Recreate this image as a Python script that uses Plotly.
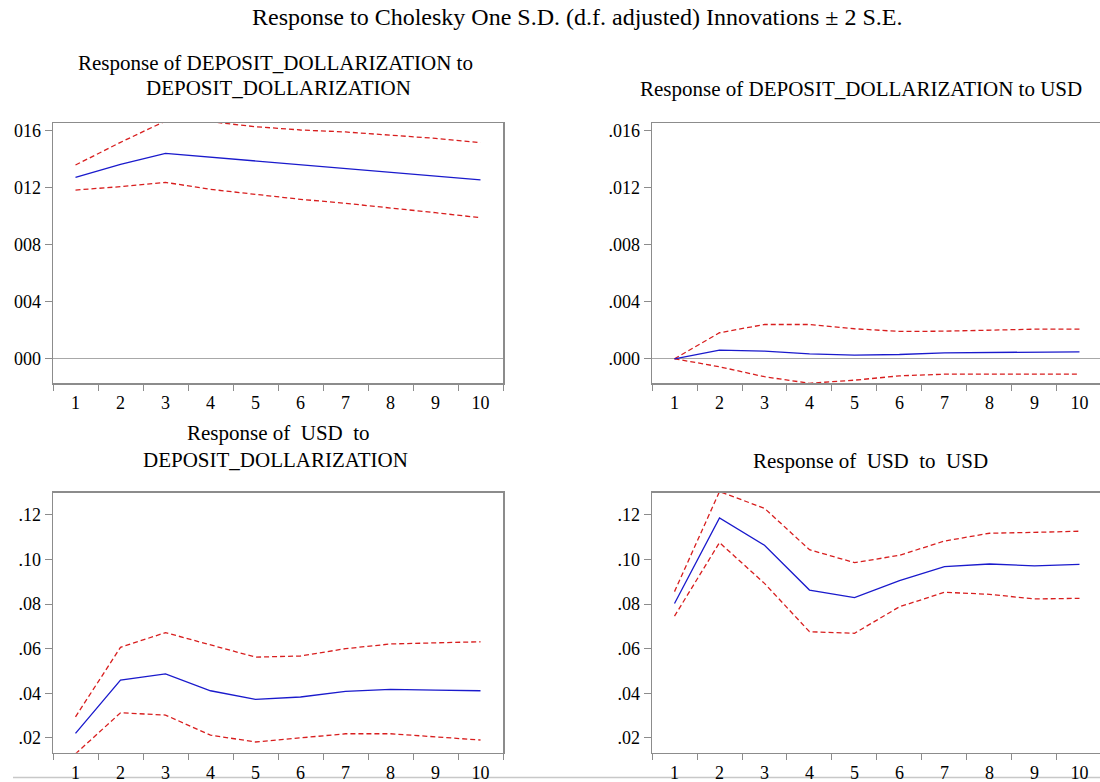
import plotly.graph_objects as go

periods = [1, 2, 3, 4, 5, 6, 7, 8, 9, 10]

# Response of DEPOSIT_DOLLARIZATION to DEPOSIT_DOLLARIZATION
dd_dd = [0.01274, 0.01366, 0.01443, 0.01417, 0.01391, 0.01363, 0.01338, 0.01310, 0.01284, 0.01256]
dd_dd_hi = [0.01361, 0.01520, 0.01670, 0.01665, 0.01630, 0.01607, 0.01593, 0.01572, 0.01548, 0.01518]
dd_dd_lo = [0.01185, 0.01209, 0.01239, 0.01190, 0.01155, 0.01120, 0.01092, 0.01061, 0.01026, 0.00991]

# Response of DEPOSIT_DOLLARIZATION to USD
dd_usd = [0.0, 0.00061, 0.00054, 0.00035, 0.00026, 0.00030, 0.00042, 0.00045, 0.00047, 0.00049]
dd_usd_hi = [0.0, 0.00183, 0.00241, 0.00241, 0.00211, 0.00192, 0.00194, 0.00201, 0.00208, 0.00208]
dd_usd_lo = [0.0, -0.00056, -0.00126, -0.00172, -0.00150, -0.00120, -0.00108, -0.00108, -0.00108, -0.00108]

# Response of USD to DEPOSIT_DOLLARIZATION
usd_dd = [0.0220, 0.0459, 0.0487, 0.0411, 0.0372, 0.0383, 0.0408, 0.0417, 0.0414, 0.0411]
usd_dd_hi = [0.0294, 0.0606, 0.0672, 0.0616, 0.0562, 0.0567, 0.0600, 0.0621, 0.0627, 0.0631]
usd_dd_lo = [0.0128, 0.0312, 0.0302, 0.0212, 0.0181, 0.0201, 0.0218, 0.0218, 0.0204, 0.0190]

# Response of USD to USD
usd_usd = [0.0803, 0.1187, 0.1064, 0.0863, 0.0829, 0.0905, 0.0968, 0.0980, 0.0972, 0.0978]
usd_usd_hi = [0.0856, 0.1305, 0.1230, 0.1044, 0.0986, 0.1019, 0.1083, 0.1118, 0.1122, 0.1127]
usd_usd_lo = [0.0746, 0.1076, 0.0893, 0.0676, 0.0669, 0.0788, 0.0853, 0.0844, 0.0823, 0.0826]

top_ticks = [0.0, 0.004, 0.008, 0.012, 0.016]
top_left_labels = ["000", "004", "008", "012", "016"]
top_right_labels = [".000", ".004", ".008", ".012", ".016"]
bot_ticks = [0.02, 0.04, 0.06, 0.08, 0.10, 0.12]
bot_labels = [".02", ".04", ".06", ".08", ".10", ".12"]

W, H = 1100, 782
BLUE = "#1a1acc"
RED = "#d81e1e"
FRAME = "#8c8c8c"
FONT = "Liberation Serif"
TICKSIZE = 18

panels = [
    (53, 503, 123, 383, [0.5, 10.5], [-0.0017, 0.01656], top_ticks, top_left_labels, (dd_dd, dd_dd_hi, dd_dd_lo)),
    (652, 1100, 123, 383, [0.5, 10.456], [-0.0017, 0.01656], top_ticks, top_right_labels, (dd_usd, dd_usd_hi, dd_usd_lo)),
    (53, 503, 492.7, 752.7, [0.5, 10.5], [0.0133, 0.130], bot_ticks, bot_labels, (usd_dd, usd_dd_hi, usd_dd_lo)),
    (652, 1100, 492.7, 752.7, [0.5, 10.456], [0.0133, 0.130], bot_ticks, bot_labels, (usd_usd, usd_usd_hi, usd_usd_lo)),
]

fig = go.Figure()
layout = {}
for i, (x0, x1, yt, yb, xr, yr, tv, tt, series) in enumerate(panels, start=1):
    xa = "x" if i == 1 else f"x{i}"
    ya = "y" if i == 1 else f"y{i}"
    mid, hi, lo = series
    fig.add_trace(go.Scatter(x=periods, y=hi, mode="lines", xaxis=xa, yaxis=ya,
                             line=dict(color=RED, width=1.3, dash="5px,3px"), showlegend=False))
    fig.add_trace(go.Scatter(x=periods, y=lo, mode="lines", xaxis=xa, yaxis=ya,
                             line=dict(color=RED, width=1.3, dash="5px,3px"), showlegend=False))
    fig.add_trace(go.Scatter(x=periods, y=mid, mode="lines", xaxis=xa, yaxis=ya,
                             line=dict(color=BLUE, width=1.3), showlegend=False))
    xkey = "xaxis" if i == 1 else f"xaxis{i}"
    ykey = "yaxis" if i == 1 else f"yaxis{i}"
    layout[xkey] = dict(
        domain=[x0 / W, x1 / W], anchor=ya, range=xr, automargin=False,
        showline=True, linecolor=FRAME, linewidth=1.5, mirror=True,
        showgrid=False, zeroline=False,
        tickmode="array", tickvals=periods, ticktext=[str(p) for p in periods],
        ticks="outside", ticklen=3, tickcolor="rgba(0,0,0,0)",
        tickfont=dict(family=FONT, size=TICKSIZE, color="black"),
        minor=dict(tickvals=[p - 0.5 for p in periods] + [10.5], ticks="outside",
                   ticklen=6, tickcolor=FRAME, tickwidth=1, showgrid=False),
        fixedrange=True,
    )
    layout[ykey] = dict(
        domain=[1 - yb / H, 1 - yt / H], anchor=xa, range=yr, automargin=False,
        showline=True, linecolor=FRAME, linewidth=1.5, mirror=True,
        showgrid=False, zeroline=True, zerolinecolor="#a8a8a8", zerolinewidth=1.3,
        tickmode="array", tickvals=tv, ticktext=tt,
        ticks="outside", ticklen=7, tickcolor=FRAME, tickwidth=1,
        tickfont=dict(family=FONT, size=TICKSIZE, color="black"),
        fixedrange=True,
    )

NB = "\u00a0"
annotations = [
    dict(text="Response to Cholesky One S.D. (d.f. adjusted) Innovations ± 2 S.E.",
         x=577 / W, y=1 - 17 / H, size=24),
    dict(text="Response of DEPOSIT_DOLLARIZATION to", x=275 / W, y=1 - 63 / H, size=21),
    dict(text="DEPOSIT_DOLLARIZATION", x=278 / W, y=1 - 88 / H, size=21),
    dict(text="Response of DEPOSIT_DOLLARIZATION to USD", x=861 / W, y=1 - 89 / H, size=21),
    dict(text=f"Response of{NB}{NB}USD{NB}{NB}to", x=278 / W, y=1 - 433 / H, size=21),
    dict(text="DEPOSIT_DOLLARIZATION", x=275 / W, y=1 - 460 / H, size=21),
    dict(text=f"Response of{NB}{NB}USD{NB}{NB}to{NB}{NB}USD", x=870 / W, y=1 - 461 / H, size=21),
]
ann_list = [dict(text=a["text"], x=a["x"], y=a["y"], xref="paper", yref="paper",
                 xanchor="center", yanchor="middle", showarrow=False,
                 font=dict(family=FONT, size=a["size"], color="black")) for a in annotations]

shapes = [
    dict(type="line", xref="paper", yref="paper", x0=13 / W, x1=1, y0=4.5 / H, y1=4.5 / H,
         line=dict(color="#c8c8c8", width=1.5), layer="below"),
]

fig.update_layout(
    width=W, height=H,
    margin=dict(l=0, r=0, t=0, b=0, autoexpand=False),
    paper_bgcolor="white", plot_bgcolor="white",
    annotations=ann_list, shapes=shapes,
    **layout,
)

fig.write_html(
    "out.html",
    config={"displayModeBar": False, "staticPlot": True},
    post_script="document.body.style.margin='0';document.body.style.padding='0';"
                "document.body.style.overflow='hidden';",
)
